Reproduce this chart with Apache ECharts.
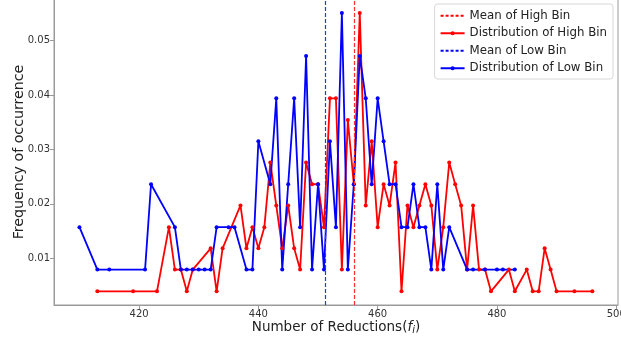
<!DOCTYPE html>
<html>
<head>
<meta charset="utf-8">
<script src="https://cdn.jsdelivr.net/npm/echarts@6/dist/echarts.min.js"></script>
<style>
  html, body { margin: 0; padding: 0; background: #fff; }
  #chart { width: 621px; height: 341px; }
</style>
</head>
<body>
<div id="chart"></div>
<script>
// High bin: reductions and frequency
const highX = [413, 419, 423, 425, 426, 427, 428, 429, 432, 433, 434, 437, 438, 439, 440, 441, 442, 443, 444, 445,
  446, 447, 448, 449, 450, 451, 452, 453, 454, 455, 456, 457, 458, 459, 460, 461, 462, 463, 464, 465,
  466, 467, 468, 469, 470, 471, 472, 473, 474, 475, 476, 477, 478, 479, 482, 483, 485, 486, 487, 488,
  489, 490, 493, 496];
const highFreq = [0.0039, 0.0039, 0.0039, 0.0157, 0.0079, 0.0079, 0.0039, 0.0079, 0.0118, 0.0039, 0.0118, 0.0197, 0.0118, 0.0157, 0.0118, 0.0157, 0.0276, 0.0197, 0.0118, 0.0197,
  0.0118, 0.0079, 0.0276, 0.0236, 0.0236, 0.0157, 0.0394, 0.0394, 0.0079, 0.0354, 0.0236, 0.0551, 0.0197, 0.0315, 0.0157, 0.0236, 0.0197, 0.0276, 0.0039, 0.0197,
  0.0157, 0.0197, 0.0236, 0.0197, 0.0079, 0.0157, 0.0276, 0.0236, 0.0197, 0.0079, 0.0197, 0.0079, 0.0079, 0.0039, 0.0079, 0.0039, 0.0079, 0.0039, 0.0039, 0.0118,
  0.0079, 0.0039, 0.0039, 0.0039];

// Low bin
const lowX = [410, 413, 415, 421, 422, 426, 427, 428, 429, 430, 431, 432, 433, 435, 436, 438, 439, 440, 442, 443,
  444, 445, 446, 447, 448, 449, 450, 451, 452, 453, 454, 455, 456, 457, 458, 459, 460, 461, 462, 463,
  464, 465, 466, 467, 468, 469, 470, 471, 472, 475, 476, 478, 480, 481, 483];
const lowFreq = [0.0157, 0.0079, 0.0079, 0.0079, 0.0236, 0.0157, 0.0079, 0.0079, 0.0079, 0.0079, 0.0079, 0.0079, 0.0157, 0.0157, 0.0157, 0.0079, 0.0079, 0.0315, 0.0236, 0.0394,
  0.0079, 0.0236, 0.0394, 0.0157, 0.0472, 0.0079, 0.0236, 0.0079, 0.0315, 0.0157, 0.0551, 0.0079, 0.0236, 0.0472, 0.0394, 0.0236, 0.0394, 0.0315, 0.0236, 0.0236,
  0.0157, 0.0157, 0.0236, 0.0157, 0.0157, 0.0079, 0.0236, 0.0079, 0.0157, 0.0079, 0.0079, 0.0079, 0.0079, 0.0079, 0.0079];

const highMean = 456.1;
const lowMean = 451.2;

const xTicks = [420, 440, 460, 480, 500];
const yTicks = [0.01, 0.02, 0.03, 0.04, 0.05];

const RED = "#ff0000";
const BLUE = "#0000ff";
const AXIS = "#9a9a9a";

const chart = echarts.init(document.getElementById("chart"));

function pairs(xs, ys) { return xs.map((x, i) => [x, ys[i]]); }

function meanSeries(name, value, color, markColor) {
  const dash = { color: markColor, width: 1.2, type: [4, 2] };
  return {
    name, type: "line", data: [], symbol: "none", color,
    lineStyle: { color, width: 1, type: [3, 2] },
    itemStyle: { color },
    markLine: {
      silent: true, symbol: "none", label: { show: false },
      itemStyle: { color: markColor },
      lineStyle: dash,
      data: [{ xAxis: value, lineStyle: dash }],
    },
  };
}

function distSeries(name, xs, ys, color) {
  return {
    name, type: "line", data: pairs(xs, ys), color,
    symbol: "circle", symbolSize: 4, showSymbol: true,
    lineStyle: { color, width: 1.8 },
    itemStyle: { color },
  };
}

chart.setOption({
  animation: false,
  backgroundColor: "#fff",
  textStyle: { fontFamily: "DejaVu Sans" },
  grid: {
    left: 54, right: 3, top: -1, bottom: 36,
    outerBoundsMode: "none", containLabel: false,
    show: true, borderColor: AXIS, borderWidth: 1,
  },
  legend: {
    orient: "vertical", right: 8, top: 4,
    itemWidth: 24, itemHeight: 5, itemGap: 4,
    padding: [5, 6, 4, 5],
    backgroundColor: "#fff", borderColor: "#d8d8d8", borderWidth: 1, borderRadius: 3,
    textStyle: { fontSize: 11.8, color: "#222", fontFamily: "DejaVu Sans", lineHeight: 13.5 },
    data: [
      { name: "Mean of High Bin", itemStyle: { opacity: 0 } },
      { name: "Distribution of High Bin" },
      { name: "Mean of Low Bin", itemStyle: { opacity: 0 } },
      { name: "Distribution of Low Bin" },
    ],
  },
  xAxis: {
    type: "value", min: 405.73, max: 500.3,
    name: "{n|Number of Reductions(}{it|f}{sub|i}{n|)}",
    nameLocation: "middle", nameGap: 15, nameMoveOverlap: false,
    nameTextStyle: {
      rich: {
        n: { fontSize: 13.5, color: "#222", fontFamily: "DejaVu Sans" },
        it: { fontSize: 13.5, color: "#222", fontStyle: "italic", fontFamily: "DejaVu Sans" },
        sub: { fontSize: 10, color: "#222", fontStyle: "italic", fontFamily: "DejaVu Sans", verticalAlign: "bottom", padding: [5, 0, 0, 0] },
      },
    },
    axisLine: { show: true, lineStyle: { color: AXIS } },
    axisTick: { show: true, length: 4, customValues: xTicks, lineStyle: { color: AXIS } },
    axisLabel: { customValues: xTicks, fontSize: 10, color: "#333", margin: 4 },
    splitLine: { show: false },
  },
  yAxis: {
    type: "value", min: 0.00138, max: 0.05768,
    name: "Frequency of occurrence",
    nameLocation: "middle", nameGap: 28, nameRotate: 90, nameMoveOverlap: false,
    nameTextStyle: { fontSize: 14.2, color: "#222", fontFamily: "DejaVu Sans" },
    axisLine: { show: true, lineStyle: { color: AXIS } },
    axisTick: { show: true, length: 4, customValues: yTicks, lineStyle: { color: AXIS } },
    axisLabel: { customValues: yTicks, fontSize: 10, color: "#333", margin: 4, formatter: (v) => v.toFixed(2) },
    splitLine: { show: false },
  },
  series: [
    meanSeries("Mean of High Bin", highMean, RED, "#ff3030"),
    distSeries("Distribution of High Bin", highX, highFreq, RED),
    meanSeries("Mean of Low Bin", lowMean, BLUE, "#3030ff"),
    distSeries("Distribution of Low Bin", lowX, lowFreq, BLUE),
  ],
});
</script>
</body>
</html>
